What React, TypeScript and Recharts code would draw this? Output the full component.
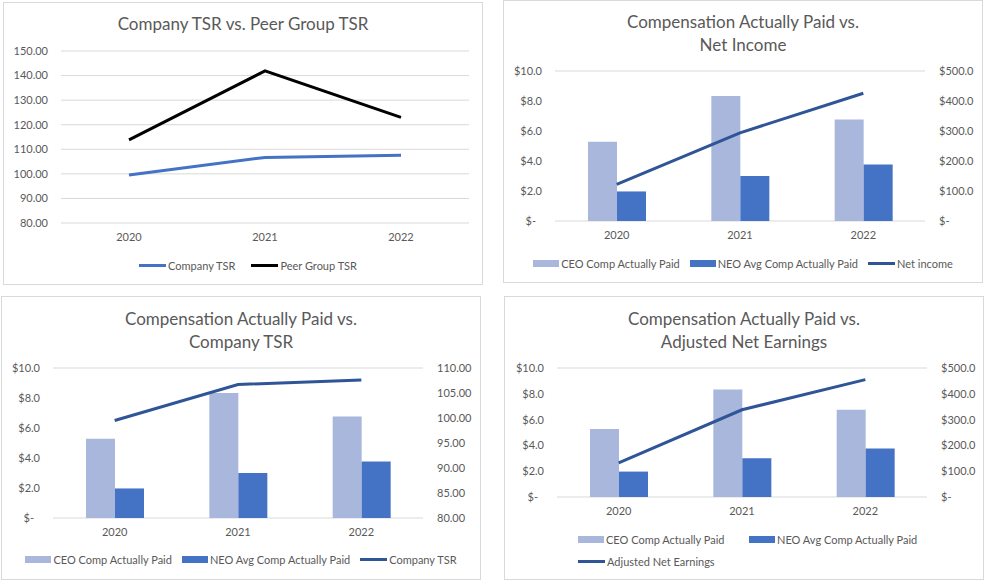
import React from 'react'
import {
  ComposedChart,
  Bar,
  Line,
  XAxis,
  YAxis,
  CartesianGrid,
  Legend,
} from 'recharts'

// values
const years = ['2020', '2021', '2022']
const companyTsr = [99.5, 106.7, 107.6]
const peerTsr = [113.8, 141.9, 123.0]
const ceoCap = [5.28, 8.33, 6.77]
const neoCap = [1.97, 3.0, 3.76]
const netIncome = [122, 294, 426]
const adjNetEarnings = [132, 338, 455]

const tsrTicks = [80, 90, 100, 110, 120, 130, 140, 150]
const compTicks = [0, 2, 4, 6, 8, 10]
const dollarTicks = [0, 100, 200, 300, 400, 500]
const tsrRightTicks = [80, 85, 90, 95, 100, 105, 110]

const FONT = 'Lato, "Liberation Sans", sans-serif'
const TEXT = '#595959'
const GRID = '#D9D9D9'
const LIGHT = '#A9B7DC'
const MID = '#4472C4'
const DARK = '#2F5597'
const FS = 11

const tsrData = years.map((year, i) => ({
  year,
  company: companyTsr[i],
  peer: peerTsr[i],
}))

const compData = years.map((year, i) => ({
  year,
  ceo: ceoCap[i],
  neo: neoCap[i],
  netIncome: netIncome[i],
  tsr: companyTsr[i],
  adjusted: adjNetEarnings[i],
}))

const money = (v: number) => (v === 0 ? '$-' : `$${v.toFixed(1)}`)
const two = (v: number) => v.toFixed(2)

const tickStyle = { fill: TEXT, fontSize: FS, fontFamily: FONT }

// left money axis: Excel's accounting format pulls the dash in a bit
function LeftMoneyTick(props: any) {
  const { x, y, payload } = props
  const v = payload.value
  return (
    <text x={v === 0 ? x - 6 : x} y={y} dy="0.355em" textAnchor="end" {...tickStyle}>
      {money(v)}
    </text>
  )
}

function ExcelLegend(props: any) {
  const { payload = [], itemWidth, gap = 10, order = [] } = props
  const items = [...payload].sort((a: any, b: any) => order.indexOf(a.value) - order.indexOf(b.value))
  return (
    <div
      style={{
        display: 'flex',
        flexWrap: 'wrap',
        justifyContent: itemWidth ? 'flex-start' : 'center',
        fontFamily: FONT,
        fontSize: FS,
        color: TEXT,
        rowGap: 6,
      }}
    >
      {items.map((p: any, i: number) => (
        <div
          key={p.value}
          style={{
            display: 'flex',
            alignItems: 'center',
            height: 16,
            width: itemWidth,
            marginRight: itemWidth || i === items.length - 1 ? 0 : gap,
          }}
        >
          {p.type === 'rect' ? (
            <span style={{ display: 'inline-block', width: 26, height: 7, background: p.color }} />
          ) : (
            <span style={{ display: 'inline-block', width: 27, height: 3, background: p.color }} />
          )}
          <span style={{ marginLeft: 2, whiteSpace: 'nowrap' }}>{p.value}</span>
        </div>
      ))}
    </div>
  )
}

function Panel({
  left,
  top,
  width,
  height,
  title,
  titleTop,
  children,
}: {
  left: number
  top: number
  width: number
  height: number
  title: string[]
  titleTop: number
  children: React.ReactNode
}) {
  return (
    <div
      style={{
        position: 'absolute',
        left,
        top,
        width,
        height,
        boxSizing: 'border-box',
        border: `1px solid ${GRID}`,
        background: '#fff',
      }}
    >
      <div style={{ position: 'absolute', left: -1, top: -1 }}>{children}</div>
      <div
        style={{
          position: 'absolute',
          left: -1,
          top: titleTop - 1,
          width,
          textAlign: 'center',
          fontFamily: FONT,
          fontSize: 17,
          lineHeight: '23px',
          color: TEXT,
          pointerEvents: 'none',
        }}
      >
        {title.map((t) => (
          <div key={t}>{t}</div>
        ))}
      </div>
    </div>
  )
}

function CompChart({
  width,
  height,
  plotTop,
  plotBottom,
  plotLeft,
  plotRight,
  lineKey,
  lineName,
  rightTicks,
  rightFormat,
  legendTop,
  legendItemWidth,
  legendLeft,
  legendWidth,
}: any) {
  const order = ['CEO Comp Actually Paid', 'NEO Avg Comp Actually Paid', lineName]
  return (
    <ComposedChart
      width={width}
      height={height}
      data={compData}
      barGap={0}
      margin={{ top: plotTop, bottom: height - plotBottom - 30, left: 0, right: 0 }}
    >
      <CartesianGrid vertical={false} stroke={GRID} />
      <XAxis dataKey="year" axisLine={false} tickLine={false} tick={tickStyle} tickMargin={4} height={30} />
      <YAxis
        yAxisId="left"
        width={plotLeft}
        domain={[0, 10]}
        ticks={compTicks}
        axisLine={false}
        tickLine={false}
        tickMargin={7}
        tick={<LeftMoneyTick />}
      />
      <YAxis
        yAxisId="right"
        orientation="right"
        width={width - plotRight}
        domain={[rightTicks[0], rightTicks[rightTicks.length - 1]]}
        ticks={rightTicks}
        axisLine={false}
        tickLine={false}
        tickMargin={8}
        tick={{ ...tickStyle, textAnchor: 'start' }}
        tickFormatter={rightFormat}
      />
      <Bar yAxisId="left" dataKey="ceo" name="CEO Comp Actually Paid" fill={LIGHT} barSize={29} isAnimationActive={false} />
      <Bar yAxisId="left" dataKey="neo" name="NEO Avg Comp Actually Paid" fill={MID} barSize={29} isAnimationActive={false} />
      <Line
        yAxisId="right"
        dataKey={lineKey}
        name={lineName}
        stroke={DARK}
        strokeWidth={3}
        dot={false}
        activeDot={false}
        isAnimationActive={false}
      />
      <Legend
        layout="horizontal"
        verticalAlign="middle"
        align="center"
        wrapperStyle={{ top: legendTop, left: legendLeft ?? 0, width: legendWidth ?? width }}
        content={(p: any) => <ExcelLegend {...p} itemWidth={legendItemWidth} order={order} />}
      />
    </ComposedChart>
  )
}

export default function App() {
  return (
    <div style={{ position: 'absolute', left: 0, top: 0, width: 985, height: 580, background: '#fff' }}>
      <Panel left={3} top={2} width={480} height={283} title={['Company TSR vs. Peer Group TSR']} titleTop={10}>
        <ComposedChart width={480} height={283} data={tsrData} margin={{ top: 49, bottom: 32, left: 0, right: 14 }}>
          <CartesianGrid vertical={false} stroke={GRID} />
          <XAxis
            dataKey="year"
            axisLine={false}
            tickLine={false}
            tick={tickStyle}
            tickMargin={4}
            height={30}
            padding={{ left: 68, right: 68 }}
          />
          <YAxis
            width={58}
            domain={[80, 150]}
            ticks={tsrTicks}
            axisLine={false}
            tickLine={false}
            tickMargin={7}
            tick={tickStyle}
            tickFormatter={two}
          />
          <Line dataKey="company" name="Company TSR" stroke={MID} strokeWidth={3} dot={false} activeDot={false} isAnimationActive={false} />
          <Line dataKey="peer" name="Peer Group TSR" stroke="#000000" strokeWidth={3} dot={false} activeDot={false} isAnimationActive={false} />
          <Legend
            layout="horizontal"
            verticalAlign="middle"
            align="center"
            wrapperStyle={{ top: 255, left: 5, width: 480 }}
            content={(p: any) => <ExcelLegend {...p} gap={16} order={['Company TSR', 'Peer Group TSR']} />}
          />
        </ComposedChart>
      </Panel>

      <Panel left={503} top={0} width={480} height={283} title={['Compensation Actually Paid vs.', 'Net Income']} titleTop={10}>
        <CompChart
          width={480}
          height={283}
          plotTop={71}
          plotBottom={221}
          plotLeft={52}
          plotRight={422}
          lineKey="netIncome"
          lineName="Net income"
          rightTicks={dollarTicks}
          rightFormat={money}
          legendTop={255}
        />
      </Panel>

      <Panel left={1} top={296} width={480} height={284} title={['Compensation Actually Paid vs.', 'Company TSR']} titleTop={11}>
        <CompChart
          width={480}
          height={284}
          plotTop={72}
          plotBottom={222}
          plotLeft={52}
          plotRight={422}
          lineKey="tsr"
          lineName="Company TSR"
          rightTicks={tsrRightTicks}
          rightFormat={two}
          legendTop={255}
        />
      </Panel>

      <Panel left={504} top={296} width={480} height={284} title={['Compensation Actually Paid vs.', 'Adjusted Net Earnings']} titleTop={11}>
        <CompChart
          width={480}
          height={284}
          plotTop={72}
          plotBottom={201}
          plotLeft={53}
          plotRight={423}
          lineKey="adjusted"
          lineName="Adjusted Net Earnings"
          rightTicks={dollarTicks}
          rightFormat={money}
          legendTop={235}
          legendLeft={74}
          legendWidth={350}
          legendItemWidth={171}
        />
      </Panel>
    </div>
  )
}
